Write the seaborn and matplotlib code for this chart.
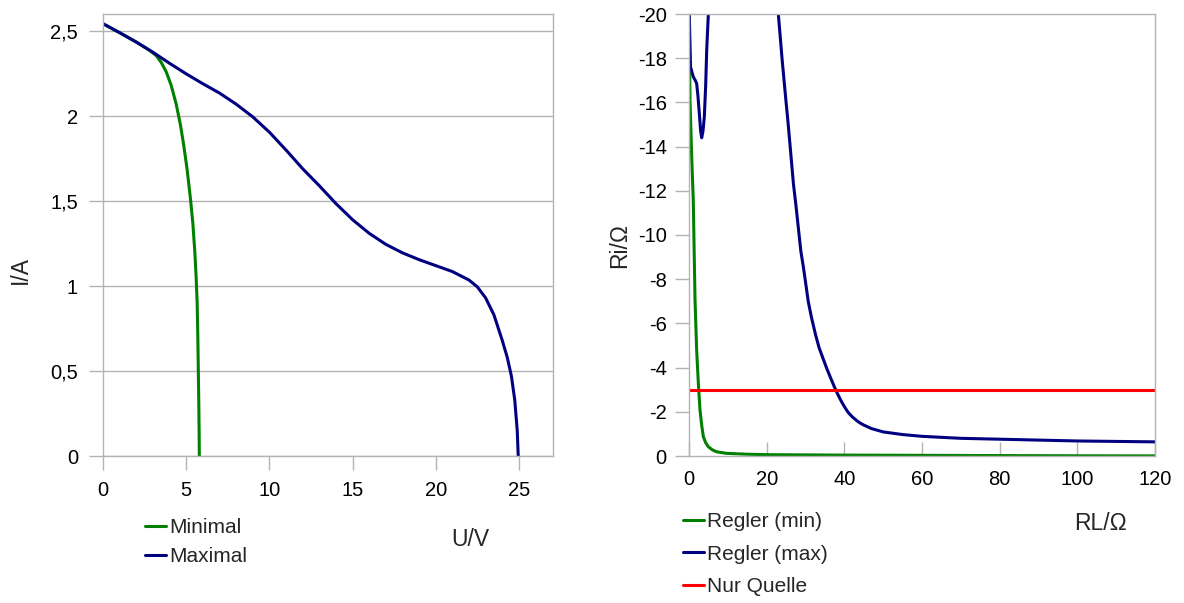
import matplotlib
matplotlib.use("Agg")
import matplotlib.pyplot as plt
import seaborn as sns
import pandas as pd
from matplotlib.ticker import FuncFormatter, MultipleLocator

# ---------------- data ----------------
# left: I(U) characteristic
min_u = [0, 1, 2, 2.8, 3.2, 3.5, 3.8, 4.1, 4.4, 4.65, 4.85, 5.05, 5.25, 5.4, 5.52,
         5.6, 5.66, 5.7, 5.73, 5.76, 5.78, 5.79]
min_i = [2.543, 2.49, 2.435, 2.386, 2.355, 2.315, 2.26, 2.18, 2.07, 1.95, 1.83, 1.69,
         1.52, 1.37, 1.2, 1.05, 0.9, 0.7, 0.5, 0.3, 0.12, 0.0]
max_u = [0, 1, 2, 3, 4, 5, 6, 7, 8, 9, 10, 11, 12, 13, 14, 15, 16, 17, 18, 19, 20, 21,
         22, 22.5, 23, 23.5, 24, 24.3, 24.55, 24.75, 24.9, 24.96]
max_i = [2.543, 2.49, 2.435, 2.375, 2.31, 2.248, 2.19, 2.135, 2.07, 1.995, 1.905, 1.80,
         1.69, 1.59, 1.485, 1.39, 1.31, 1.245, 1.195, 1.155, 1.12, 1.085, 1.035, 0.995,
         0.93, 0.83, 0.68, 0.58, 0.47, 0.33, 0.15, 0.0]

# right: Ri(RL)
rmin_rl = [0, 0.26, 0.7, 1.1, 1.55, 1.97, 2.4, 2.83, 3.3, 3.7, 4.3, 4.97, 6, 7.1, 9.7,
           15, 20, 40, 60, 80, 100, 120]
rmin_ri = [-20.5, -16.1, -13.5, -11.58, -7.06, -4.8, -3.3, -2.08, -1.35, -0.87, -0.6,
           -0.42, -0.28, -0.19, -0.12, -0.08, -0.06, -0.04, -0.03, -0.02, -0.01, -0.005]
rmax_rl = [0, 0.4, 1.1, 1.6, 1.97, 2.3, 2.66, 3.0, 3.27, 3.6, 3.95, 4.3, 4.56, 4.98, 5.5,
           8, 15, 20, 22, 23.0, 24, 24.95, 25.5, 26.9, 27.5, 28.8, 29.5, 30.7, 31.5, 32.6,
           33.5, 34.5, 35.5, 36.5, 37.5, 38.4, 39.3, 40.3, 41, 42, 43.2, 44, 45, 47, 50,
           55, 60, 70, 80, 90, 100, 110, 120]
rmax_ri = [-20.5, -17.6, -17.16, -17.0, -16.86, -16.3, -15.5, -14.7, -14.4, -14.7, -15.35,
           -16.8, -18.37, -20, -23, -40, -45, -28, -21.5, -20, -17.9, -16.1, -15.1, -12.3,
           -11.4, -9.27, -8.5, -7.0, -6.3, -5.48, -4.9, -4.42, -3.95, -3.52, -3.1, -2.76,
           -2.45, -2.15, -1.97, -1.78, -1.6, -1.5, -1.4, -1.24, -1.09, -0.97, -0.89, -0.8,
           -0.76, -0.72, -0.68, -0.66, -0.64]
quelle_rl = [0, 120]
quelle_ri = [-3, -3]

left_labels = ["Minimal", "Maximal"]
right_labels = ["Regler (min)", "Regler (max)", "Nur Quelle"]

# ---------------- style ----------------
sns.set_style("white")
plt.rcParams['font.family'] = ['Liberation Sans', 'DejaVu Sans']
plt.rcParams['axes.unicode_minus'] = False
FS = 14.5      # tick labels
FS_LEG = 15.0  # legend
FS_LAB = 16.5  # axis titles
GREEN = "#008000"
NAVY = "#000080"
RED = "#ff0000"
GRAY = "#b3b3b3"
LW = 2.2

fig = plt.figure(figsize=(11.84, 6.03), dpi=100)
ax1 = fig.add_axes([103 / 1184, 1 - 456 / 603, 450 / 1184, 442 / 603])
ax2 = fig.add_axes([689 / 1184, 1 - 456 / 603, 466 / 1184, 442 / 603])

comma = FuncFormatter(lambda v, p: ("%g" % v).replace(".", ","))

# ---- left ----
df_min = pd.DataFrame({"U": min_u, "I": min_i})
df_max = pd.DataFrame({"U": max_u, "I": max_i})
sns.lineplot(data=df_min, x="U", y="I", ax=ax1, color=GREEN, lw=LW, sort=False,
             estimator=None, label=left_labels[0])
sns.lineplot(data=df_max, x="U", y="I", ax=ax1, color=NAVY, lw=LW, sort=False,
             estimator=None, label=left_labels[1])
ax1.set_xlim(0, 27.05)
ax1.set_ylim(0, 2.6)
ax1.xaxis.set_major_locator(MultipleLocator(5))
ax1.yaxis.set_major_locator(MultipleLocator(0.5))
ax1.yaxis.set_major_formatter(comma)
ax1.xaxis.set_major_formatter(comma)
ax1.grid(axis="y", color=GRAY, lw=1.0)
ax1.grid(axis="x", visible=False)
ax1.set_axisbelow(True)
ax1.tick_params(axis="both", direction="out", length=10, width=1.0, color=GRAY,
                labelsize=FS, labelcolor="black", pad=8)
ax1.tick_params(axis="both", which="both", bottom=True, left=True)
ax1.set_xlabel("U/V", fontsize=FS_LAB)
ax1.set_ylabel("I/A", fontsize=FS_LAB)
ax1.xaxis.set_label_coords((470 - 103) / 450, (456 - 540) / 442)
ax1.yaxis.set_label_coords((20 - 103) / 450, (456 - 270) / 442)
ax1.xaxis.label.set_verticalalignment("center")
ax1.yaxis.label.set_verticalalignment("center")
for s in ax1.spines.values():
    s.set_color(GRAY)
    s.set_linewidth(1.0)
ax1.legend(loc="upper left", bbox_to_anchor=((145 - 103) / 450, (456 - 518) / 442),
           frameon=False, fontsize=FS_LEG, handlelength=1.0, handletextpad=0.15,
           borderpad=0, borderaxespad=0, labelspacing=0.5)

# ---- right ----
df_rmin = pd.DataFrame({"RL": rmin_rl, "Ri": rmin_ri})
df_rmax = pd.DataFrame({"RL": rmax_rl, "Ri": rmax_ri})
df_q = pd.DataFrame({"RL": quelle_rl, "Ri": quelle_ri})
sns.lineplot(data=df_rmin, x="RL", y="Ri", ax=ax2, color=GREEN, lw=LW, sort=False,
             estimator=None, label=right_labels[0])
sns.lineplot(data=df_rmax, x="RL", y="Ri", ax=ax2, color=NAVY, lw=LW, sort=False,
             estimator=None, label=right_labels[1])
sns.lineplot(data=df_q, x="RL", y="Ri", ax=ax2, color=RED, lw=LW, sort=False,
             estimator=None, label=right_labels[2])
ax2.set_xlim(0, 120)
ax2.set_ylim(0, -20)
ax2.xaxis.set_major_locator(MultipleLocator(20))
ax2.yaxis.set_major_locator(MultipleLocator(2))
ax2.grid(False)
ax2.tick_params(axis="x", direction="in", length=10, width=1.0, color=GRAY,
                labelsize=FS, labelcolor="black", pad=10, bottom=True)
ax2.tick_params(axis="y", direction="out", length=10, width=1.0, color=GRAY,
                labelsize=FS, labelcolor="black", pad=6, left=True)
ax2.set_xlabel("RL/Ω", fontsize=FS_LAB)
ax2.set_ylabel("Ri/Ω", fontsize=FS_LAB)
ax2.xaxis.set_label_coords((1100 - 689) / 466, (456 - 523) / 442)
ax2.yaxis.set_label_coords((620 - 689) / 466, (456 - 245) / 442)
ax2.xaxis.label.set_verticalalignment("center")
ax2.yaxis.label.set_verticalalignment("center")
for s in ax2.spines.values():
    s.set_color(GRAY)
    s.set_linewidth(1.0)
ax2.legend(loc="upper left", bbox_to_anchor=((683 - 689) / 466, (456 - 512) / 442),
           frameon=False, fontsize=FS_LEG, handlelength=1.0, handletextpad=0.15,
           borderpad=0, borderaxespad=0, labelspacing=0.65)

fig.savefig("out.png", dpi=100)
